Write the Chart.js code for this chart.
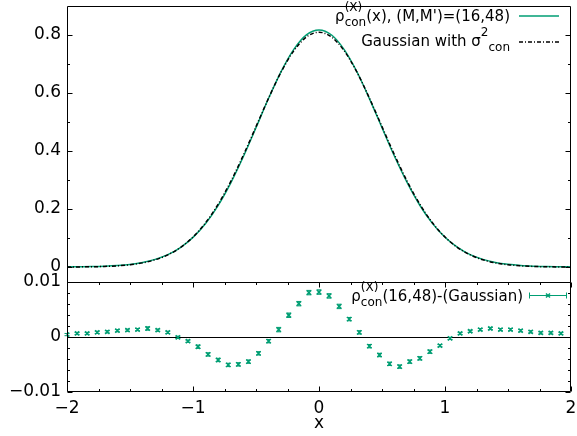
<!DOCTYPE html>
<html>
<head>
<meta charset="utf-8">
<script src="https://cdn.jsdelivr.net/npm/chart.js@4.4.0/dist/chart.umd.min.js"></script>
<style>
  html, body { margin: 0; padding: 0; background: #fff; }
</style>
</head>
<body>
<canvas id="myChart" width="577" height="436"></canvas>
<script>
// --- data ---
const xCurve = [-2.0, -1.9, -1.8, -1.7, -1.6, -1.5, -1.4, -1.3, -1.2, -1.1, -1.0, -0.9, -0.8, -0.7, -0.6, -0.5, -0.4, -0.3, -0.2, -0.1,
                0.0, 0.1, 0.2, 0.3, 0.4, 0.5, 0.6, 0.7, 0.8, 0.9, 1.0, 1.1, 1.2, 1.3, 1.4, 1.5, 1.6, 1.7, 1.8, 1.9, 2.0];
const rhoCon = [0.0007, 0.0011, 0.0017, 0.0030, 0.0053, 0.0091, 0.0157, 0.0264, 0.0426, 0.0672, 0.1020, 0.1497, 0.2123, 0.2898, 0.3805, 0.4797, 0.5806, 0.6734, 0.7490, 0.7990,
                0.8160, 0.7985, 0.7484, 0.6728, 0.5797, 0.4794, 0.3803, 0.2902, 0.2126, 0.1502, 0.1023, 0.0677, 0.0428, 0.0264, 0.0157, 0.0092, 0.0052, 0.0030, 0.0017, 0.0011, 0.0007];
const gaussCon = [0.0002, 0.0005, 0.0010, 0.0021, 0.0042, 0.0079, 0.0143, 0.0250, 0.0418, 0.0670, 0.1033, 0.1526, 0.2165, 0.2949, 0.3853, 0.4831, 0.5814, 0.6715, 0.7440, 0.7915,
                  0.8080, 0.7915, 0.7440, 0.6715, 0.5814, 0.4831, 0.3853, 0.2949, 0.2165, 0.1526, 0.1033, 0.0670, 0.0418, 0.0250, 0.0143, 0.0079, 0.0042, 0.0021, 0.0010, 0.0005, 0.0002];

const xDiff = [-2.00, -1.92, -1.84, -1.76, -1.68, -1.60, -1.52, -1.44, -1.36, -1.28, -1.20, -1.12, -1.04, -0.96, -0.88, -0.80, -0.72, -0.64, -0.56, -0.48, -0.40, -0.32, -0.24, -0.16, -0.08,
               0.00, 0.08, 0.16, 0.24, 0.32, 0.40, 0.48, 0.56, 0.64, 0.72, 0.80, 0.88, 0.96, 1.04, 1.12, 1.20, 1.28, 1.36, 1.44, 1.52, 1.60, 1.68, 1.76, 1.84, 1.92];
const diffCon = [0.0004, 0.0006, 0.0006, 0.0008, 0.0009, 0.0011, 0.0012, 0.0013, 0.0015, 0.0012, 0.0008, -0.0001, -0.0008, -0.0018, -0.0032, -0.0042, -0.0051, -0.0050, -0.0045, -0.0030, -0.0008, 0.0013, 0.0039, 0.0060, 0.0080,
                 0.0081, 0.0074, 0.0055, 0.0032, 0.0008, -0.0017, -0.0033, -0.0049, -0.0054, -0.0045, -0.0039, -0.0027, -0.0016, -0.0003, 0.0006, 0.0010, 0.0013, 0.0015, 0.0013, 0.0013, 0.0011, 0.0009, 0.0007, 0.0007, 0.0006];
const diffErr = [0.0002, 0.0002, 0.0002, 0.0002, 0.0002, 0.0002, 0.0002, 0.0002, 0.0003, 0.0002, 0.0002, 0.0002, 0.0002, 0.0003, 0.0003, 0.0003, 0.0003, 0.0003, 0.0003, 0.0003, 0.0003, 0.0004, 0.0004, 0.0004, 0.0004,
                 0.0004, 0.0004, 0.0004, 0.0003, 0.0003, 0.0003, 0.0003, 0.0003, 0.0003, 0.0003, 0.0003, 0.0003, 0.0002, 0.0002, 0.0002, 0.0002, 0.0002, 0.0002, 0.0002, 0.0002, 0.0002, 0.0002, 0.0002, 0.0002, 0.0002];

const xTicks = [-2, -1, 0, 1, 2];
const xMinor = [-1.75, -1.5, -1.25, -0.75, -0.5, -0.25, 0.25, 0.5, 0.75, 1.25, 1.5, 1.75];
const yTopTicks = [0, 0.2, 0.4, 0.6, 0.8];
const yTopMinor = [0.1, 0.3, 0.5, 0.7];
const yBotTicks = [-0.01, 0, 0.01];
const yBotMinor = [-0.008, -0.006, -0.004, -0.002, 0.002, 0.004, 0.006, 0.008];

const GREEN = '#009e73';
const FONT = '"DejaVu Sans", sans-serif';

function fmt(v) {
    if (v === 0) return '0';
    return String(v).replace('-', '\u2212');
}

// no extra room for the end labels, the frame sets the size
function noPad(s) {
    s.paddingTop = 0; s.paddingBottom = 0;
    s.paddingLeft = 0; s.paddingRight = 0;
}

// draw text made of pieces (main, super/sub stacked or in a row), right aligned
function richRight(ctx, parts, right, base) {
    let total = 0;
    parts.forEach(p => {
        let w = 0;
        if (p.t) { ctx.font = p.s + 'px ' + FONT; w = ctx.measureText(p.t).width; }
        if (p.sup || p.sub) {
            ctx.font = p.s + 'px ' + FONT;
            const a = p.sup ? ctx.measureText(p.sup).width : 0;
            const b = p.sub ? ctx.measureText(p.sub).width : 0;
            w = Math.max(a, b);
        }
        p.w = w; total += w;
    });
    let x = right - total;
    ctx.textAlign = 'left';
    ctx.textBaseline = 'alphabetic';
    parts.forEach(p => {
        ctx.font = p.s + 'px ' + FONT;
        if (p.t) ctx.fillText(p.t, x, base + (p.dy || 0));
        if (p.sup) ctx.fillText(p.sup, x, base - 10);
        if (p.sub) ctx.fillText(p.sub, x, base + 5);
        x += p.w;
    });
}

const framePlugin = {
    id: 'frames',
    beforeDatasetsDraw(chart) {
        // error bars under the markers
        const ctx = chart.ctx;
        const yb = chart.scales.yBot;
        const meta = chart.getDatasetMeta(2);
        ctx.save();
        ctx.strokeStyle = GREEN;
        ctx.lineWidth = 1;
        ctx.beginPath();
        meta.data.forEach((pt, i) => {
            const y1 = yb.getPixelForValue(diffCon[i] + diffErr[i]);
            const y2 = yb.getPixelForValue(diffCon[i] - diffErr[i]);
            ctx.moveTo(pt.x, y1); ctx.lineTo(pt.x, y2);
            ctx.moveTo(pt.x - 2.5, y1); ctx.lineTo(pt.x + 2.5, y1);
            ctx.moveTo(pt.x - 2.5, y2); ctx.lineTo(pt.x + 2.5, y2);
        });
        ctx.stroke();
        // zero line in the lower panel
        const y0 = Math.round(yb.getPixelForValue(0)) + 0.5;
        ctx.strokeStyle = '#000';
        ctx.beginPath();
        ctx.moveTo(chart.chartArea.left, y0);
        ctx.lineTo(chart.chartArea.right, y0);
        ctx.stroke();
        ctx.restore();
    },
    afterDraw(chart) {
        const ctx = chart.ctx;
        const { left, right } = chart.chartArea;
        const yt = chart.scales.yTop, yb = chart.scales.yBot, xs = chart.scales.x;
        const L = Math.round(left) + 0.5, R = Math.round(right) - 0.5;
        ctx.save();
        ctx.strokeStyle = '#000';
        ctx.lineWidth = 1;
        ctx.beginPath();
        // frames
        const t1 = Math.round(yt.top) + 0.5, b1 = Math.round(yt.bottom) + 0.5;
        const b2 = Math.round(yb.bottom) - 0.5;
        ctx.rect(L, t1, R - L, b1 - t1);
        ctx.rect(L, b1, R - L, b2 - b1);
        ctx.stroke();
        ctx.lineWidth = 1;
        ctx.beginPath();
        const hTick = (y, len) => {
            y = Math.round(y) + 0.5;
            ctx.moveTo(L, y); ctx.lineTo(L + len, y);
            ctx.moveTo(R, y); ctx.lineTo(R - len, y);
        };
        yTopTicks.forEach(v => hTick(yt.getPixelForValue(v), 5));
        yTopMinor.forEach(v => hTick(yt.getPixelForValue(v), 2.5));
        yBotTicks.forEach(v => hTick(yb.getPixelForValue(v), 5));
        yBotMinor.forEach(v => hTick(yb.getPixelForValue(v), 2.5));
        const vTick = (x, len) => {
            x = Math.round(x) + 0.5;
            ctx.moveTo(x, b2); ctx.lineTo(x, b2 - len);
            ctx.moveTo(x, b1); ctx.lineTo(x, b1 + len);
        };
        xTicks.forEach(v => vTick(xs.getPixelForValue(v), 5));
        xMinor.forEach(v => vTick(xs.getPixelForValue(v), 2.5));
        ctx.stroke();

        // x axis label
        ctx.fillStyle = '#000';
        ctx.font = '17px ' + FONT;
        ctx.textAlign = 'center';
        ctx.textBaseline = 'middle';
        ctx.fillText('x', xs.getPixelForValue(0), 424);

        // legend, upper panel
        richRight(ctx, [
            { t: '\u03c1', s: 15 },
            { sup: '(X)', sub: 'con', s: 12 },
            { t: "(x), (M,M')=(16,48)", s: 15 }
        ], 510, 21);
        ctx.strokeStyle = GREEN;
        ctx.lineWidth = 1.5;
        ctx.beginPath();
        ctx.moveTo(519, 16); ctx.lineTo(559, 16);
        ctx.stroke();

        richRight(ctx, [
            { t: 'Gaussian with \u03c3', s: 15 },
            { sup: '2', s: 12 },
            { sub: 'con', s: 12 }
        ], 510, 46);
        ctx.strokeStyle = '#000';
        ctx.setLineDash([4, 2, 1, 2]);
        ctx.beginPath();
        ctx.moveTo(519, 42); ctx.lineTo(559, 42);
        ctx.stroke();
        ctx.setLineDash([]);

        // legend, lower panel
        richRight(ctx, [
            { t: '\u03c1', s: 15 },
            { sup: '(X)', sub: 'con', s: 12 },
            { t: '(16,48)-(Gaussian)', s: 15 }
        ], 523, 301);
        ctx.strokeStyle = GREEN;
        ctx.lineWidth = 1;
        ctx.beginPath();
        ctx.moveTo(529, 295.5); ctx.lineTo(567, 295.5);
        ctx.moveTo(529.5, 292.5); ctx.lineTo(529.5, 298.5);
        ctx.moveTo(566.5, 292.5); ctx.lineTo(566.5, 298.5);
        ctx.stroke();
        ctx.lineWidth = 1.5;
        ctx.beginPath();
        ctx.moveTo(546, 293.5); ctx.lineTo(550, 297.5);
        ctx.moveTo(550, 293.5); ctx.lineTo(546, 297.5);
        ctx.stroke();
        ctx.restore();
    }
};

const ctx = document.getElementById('myChart').getContext('2d');

const myChart = new Chart(ctx, {
    type: 'line',
    data: {
        datasets: [
            {
                label: 'rho_con',
                data: xCurve.map((x, i) => ({ x: x, y: rhoCon[i] })),
                yAxisID: 'yTop',
                borderColor: GREEN,
                borderWidth: 1.5,
                pointRadius: 0,
                cubicInterpolationMode: 'monotone',
                order: 2
            },
            {
                label: 'Gaussian',
                data: xCurve.map((x, i) => ({ x: x, y: gaussCon[i] })),
                yAxisID: 'yTop',
                borderColor: '#000',
                borderWidth: 1.5,
                borderDash: [4, 2, 1, 2],
                pointRadius: 0,
                cubicInterpolationMode: 'monotone',
                order: 1
            },
            {
                type: 'scatter',
                label: 'diff',
                data: xDiff.map((x, i) => ({ x: x, y: diffCon[i] })),
                yAxisID: 'yBot',
                showLine: false,
                pointStyle: 'crossRot',
                pointRadius: 3,
                borderColor: GREEN,
                borderWidth: 1.5,
                order: 0
            }
        ]
    },
    options: {
        responsive: false,
        animation: false,
        devicePixelRatio: 1,
        layout: { padding: { top: 1, right: 6, left: 0, bottom: 0 } },
        plugins: {
            legend: { display: false },
            tooltip: { enabled: false }
        },
        scales: {
            x: {
                type: 'linear',
                position: 'bottom',
                min: -2,
                max: 2,
                afterBuildTicks: s => { s.ticks = xTicks.map(v => ({ value: v })); },
                afterFit: s => { s.height = 44; noPad(s); },
                grid: { display: false, drawTicks: false },
                border: { display: false },
                ticks: {
                    padding: 6,
                    color: '#000',
                    font: { family: FONT, size: 17 },
                    callback: v => fmt(v)
                }
            },
            yBot: {
                type: 'linear',
                position: 'left',
                stack: 'panels',
                stackWeight: 1,
                min: -0.01,
                max: 0.01,
                afterBuildTicks: s => { s.ticks = yBotTicks.map(v => ({ value: v })); },
                afterFit: s => { s.width = 67; noPad(s); },
                grid: { display: false, drawTicks: false },
                border: { display: false },
                ticks: {
                    padding: 6,
                    color: '#000',
                    font: { family: FONT, size: 17 },
                    callback: v => fmt(v)
                }
            },
            yTop: {
                type: 'linear',
                position: 'left',
                stack: 'panels',
                stackWeight: 2.5,
                min: -0.05,
                max: 0.9,
                afterBuildTicks: s => { s.ticks = yTopTicks.map(v => ({ value: v })); },
                afterFit: s => { s.width = 67; noPad(s); },
                grid: { display: false, drawTicks: false },
                border: { display: false },
                ticks: {
                    padding: 6,
                    color: '#000',
                    font: { family: FONT, size: 17 },
                    callback: v => fmt(Math.round(v * 10) / 10)
                }
            }
        }
    },
    plugins: [framePlugin]
});
</script>
</body>
</html>
